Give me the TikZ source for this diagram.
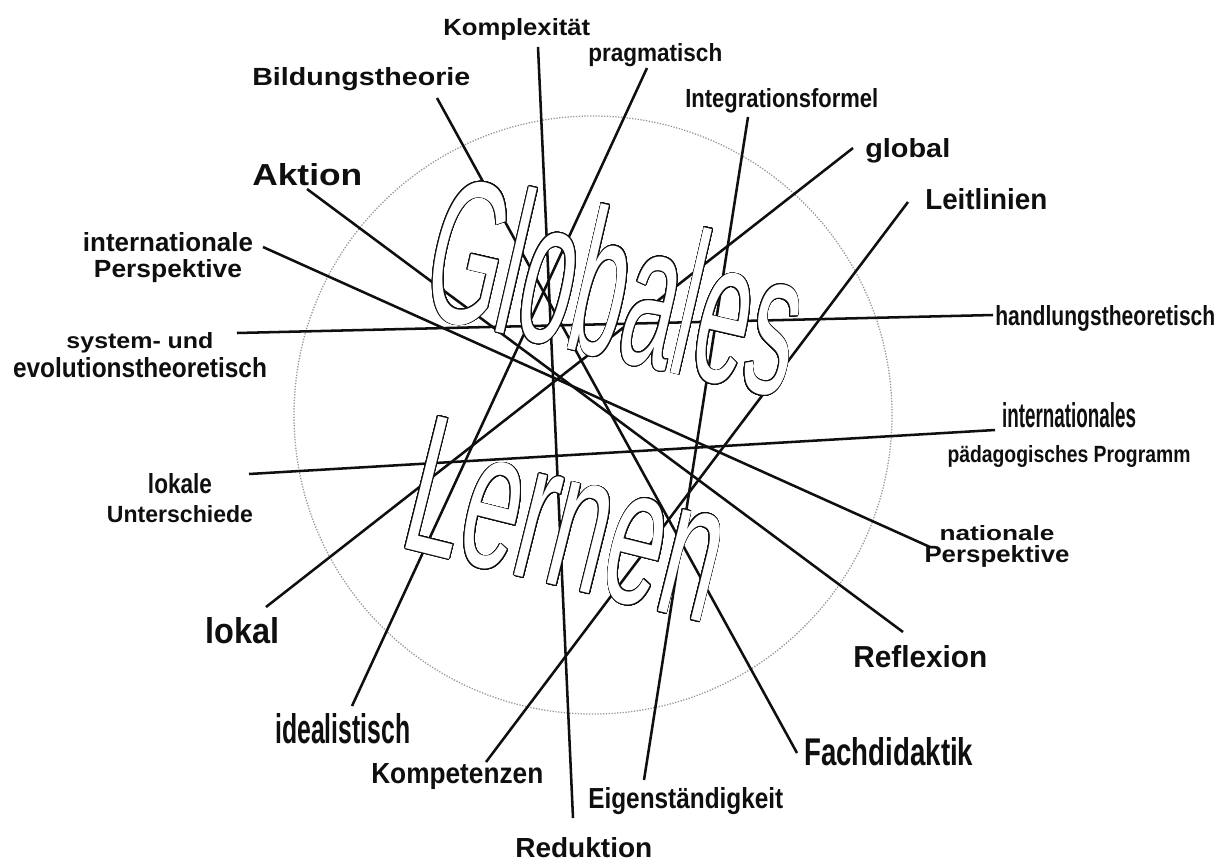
\documentclass[tikz,border=0pt]{standalone}
\usepackage{fontspec}
\setmainfont{Liberation Sans}
\usepackage{graphicx}
\usepackage{contour}
\contourlength{0.6pt}
\contournumber{32}
\definecolor{ink}{RGB}{15,15,15}
\definecolor{rim}{RGB}{150,150,150}
\newlength{\px}
\setlength{\px}{0.025cm}
\newcommand{\wlab}[3]{\resizebox{#1\px}{#2\px}{#3}}
\tikzset{
  lab/.style={inner sep=0pt,anchor=base west,font=\bfseries,text=ink},
  pair/.style={inner sep=0pt,anchor=north,align=center,text=ink,
    font=\fontsize{10pt}{#1}\selectfont\bfseries},
  tie/.style={draw=ink,line width=1.8pt},
  ring/.style={draw=rim,line width=0.9pt,dash pattern=on 0.9pt off 1.1pt},
  word/.style={inner sep=0pt,text=white},
}

\begin{document}
\begin{tikzpicture}[x=0.025cm,y=-0.025cm]
  \fill[white] (0,0) rectangle (1220,861);
  \useasboundingbox (0,0) rectangle (1220,861);
  \draw[ring] (593,415) circle (299);
  % labels and line ends
  \node[lab] (kompl) at (443,35) {\wlab{147}{17}{Komplexität}};
  \coordinate (kompl-e) at (538,47);
  \node[lab] (pragm) at (588,61) {\wlab{134}{18}{pragmatisch}};
  \coordinate (pragm-e) at (647,68);
  \node[lab] (bildung) at (252,85) {\wlab{218}{18}{Bildungstheorie}};
  \coordinate (bildung-e) at (437,98);
  \node[lab] (integ) at (685,107) {\wlab{193}{19}{Integrationsformel}};
  \coordinate (integ-e) at (748,117);
  \node[lab] (glob) at (865,157) {\wlab{85}{19}{global}};
  \coordinate (glob-e) at (853,148);
  \node[lab] (aktion) at (252,185) {\wlab{110}{22}{Aktion}};
  \coordinate (aktion-e) at (307,189);
  \node[lab] (leit) at (925,209) {\wlab{122}{21}{Leitlinien}};
  \coordinate (leit-e) at (908,202);
  \node[pair=18.5pt] (intpersp) at (168,232)
    {\wlab{170}{19}{internationale}\\\wlab{148}{18}{Perspektive}};
  \coordinate (intpersp-e) at (263,247);
  \node[pair=20.6pt] (system) at (140,332)
    {\wlab{147}{16}{system- und}\\\wlab{254}{20}{evolutionstheoretisch}};
  \coordinate (system-e) at (237,333);
  \node[lab] (handl) at (995,325) {\wlab{220}{20}{handlungstheoretisch}};
  \coordinate (handl-e) at (993,315);
  \node[pair=24.9pt] (intprog) at (1069,402)
    {\wlab{134}{25}{internationales}\\\wlab{243}{17}{pädagogisches Programm}};
  \coordinate (intprog-e) at (995,430);
  \node[pair=20.6pt] (lokunt) at (180,473)
    {\wlab{64}{20}{lokale}\\\wlab{146}{17}{Unterschiede}};
  \coordinate (lokunt-e) at (249,474);
  \node[pair=15.6pt] (natpersp) at (997,525)
    {\wlab{115}{15}{nationale}\\\wlab{145}{17}{Perspektive}};
  \coordinate (natpersp-e) at (930,547);
  \node[lab] (lokal) at (205,643) {\wlab{74}{26}{lokal}};
  \coordinate (lokal-e) at (266,607);
  \node[lab] (reflex) at (853,667) {\wlab{134}{22}{Reflexion}};
  \coordinate (reflex-e) at (903,632);
  \node[lab] (ideal) at (275,743) {\wlab{135}{30}{idealistisch}};
  \coordinate (ideal-e) at (352,706);
  \node[lab] (fachd) at (804,765) {\wlab{169}{28}{Fachdidaktik}};
  \coordinate (fachd-e) at (797,753);
  \node[lab] (kompet) at (371,783) {\wlab{172}{20}{Kompetenzen}};
  \coordinate (kompet-e) at (486,762);
  \node[lab] (eigen) at (588,808) {\wlab{195}{21}{Eigenständigkeit}};
  \coordinate (eigen-e) at (644,780);
  \node[lab] (redukt) at (515,857) {\wlab{137}{20}{Reduktion}};
  \coordinate (redukt-e) at (573,818);
  % opposite pairs
  \foreach \a/\b in {kompl/redukt,pragm/ideal,bildung/fachd,integ/eigen,
    glob/lokal,leit/kompet,aktion/reflex,intpersp/natpersp,system/handl,lokunt/intprog}
    \draw[tie] (\a-e) -- (\b-e);
  % hollow title words
  \node[word,rotate=-13] (globales) at (617,285) {\contour{ink}{\wlab{375}{149}{Globales}}};
  \node[word,rotate=-14] (lernen) at (568,520) {\contour{ink}{\wlab{318}{136}{Lernen}}};
\end{tikzpicture}
\end{document}
